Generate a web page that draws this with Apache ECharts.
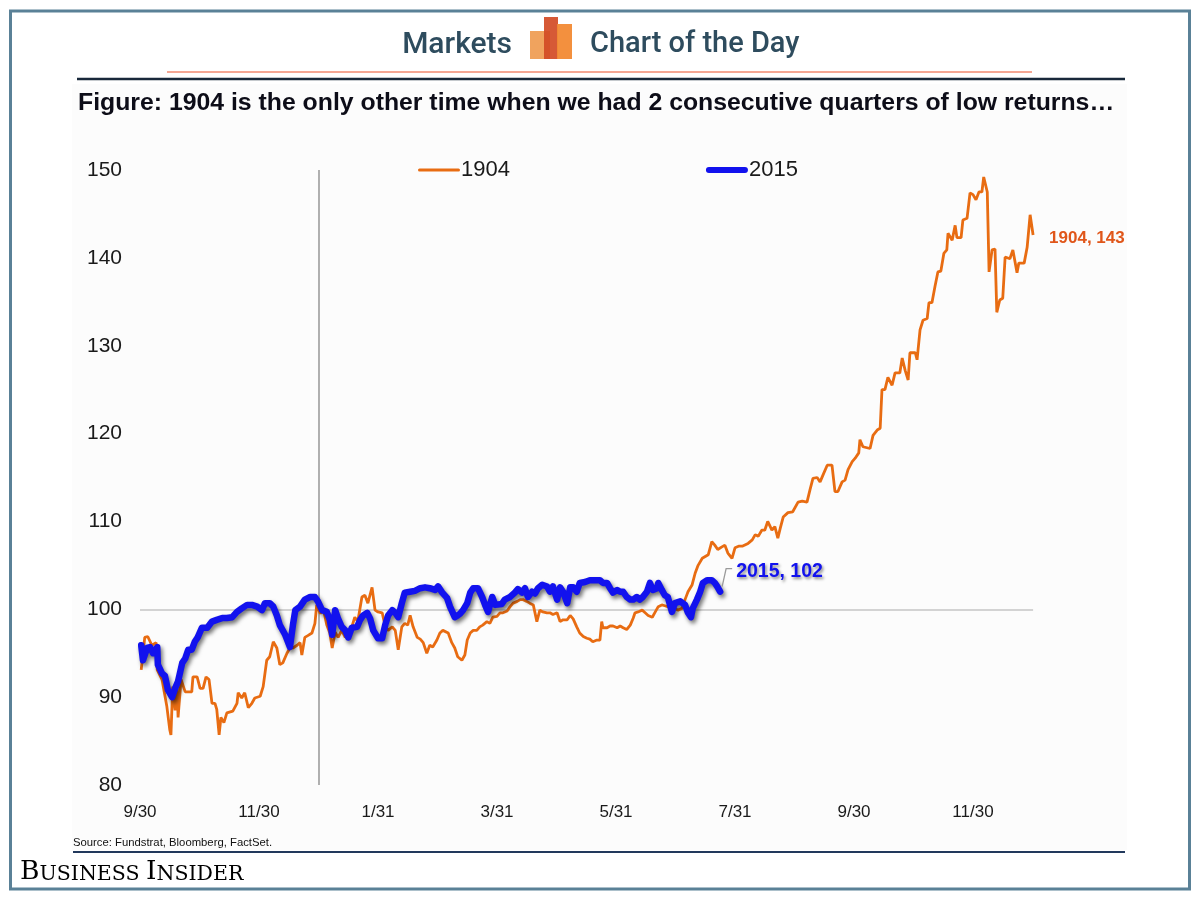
<!DOCTYPE html>
<html>
<head>
<meta charset="utf-8">
<script src="https://cdn.jsdelivr.net/npm/echarts@6/dist/echarts.min.js"></script>
<style>
html,body{margin:0;padding:0;background:#fff;}
#chart{width:1200px;height:900px;}
</style>
</head>
<body>
<div id="chart"></div>
<script>
// x values are months elapsed since 9/30 (start of series)
const tickLabels = ['9/30','11/30','1/31','3/31','5/31','7/31','9/30','11/30'];
const yTicks = [80, 90, 100, 110, 120, 130, 140, 150];
const seriesNames = ['1904', '2015'];
const endLabels = ['1904, 143', '2015, 102'];
const yearBoundary = 3;      // 12/31
const baseline = 100;

const data1904 = [
[0.02,93.1],[0.08,96.8],[0.13,96.9],[0.20,95.9],[0.27,96.2],[0.29,93.1],[0.37,92.0],[0.45,89.0],[0.50,86.3],[0.52,85.7],
[0.55,91.2],[0.59,88.5],[0.62,92.0],[0.64,87.7],[0.69,92.0],[0.73,91.2],[0.76,90.6],[0.87,90.6],[0.89,92.3],[0.96,92.3],
[1.01,91.0],[1.06,91.0],[1.11,92.3],[1.16,92.0],[1.21,89.3],[1.26,89.3],[1.29,88.6],[1.33,85.7],[1.36,87.7],[1.41,87.1],
[1.46,88.2],[1.56,88.4],[1.63,89.3],[1.65,90.5],[1.71,89.9],[1.76,90.5],[1.82,88.8],[1.88,89.3],[1.93,89.9],[2.02,90.1],
[2.07,91.2],[2.13,94.2],[2.18,94.6],[2.24,96.3],[2.30,95.6],[2.35,93.7],[2.40,93.9],[2.47,95.0],[2.52,95.6],[2.57,95.6],
[2.64,95.9],[2.69,96.2],[2.72,94.8],[2.77,96.8],[2.82,97.0],[2.89,97.3],[2.94,98.4],[2.97,100.5],[3.03,99.5],[3.08,100.1],
[3.14,98.2],[3.19,97.3],[3.23,95.6],[3.28,97.4],[3.33,96.8],[3.39,97.6],[3.45,96.8],[3.50,97.4],[3.56,98.0],[3.61,99.1],
[3.66,98.6],[3.73,101.4],[3.78,101.6],[3.83,100.7],[3.90,102.5],[3.95,99.9],[4.00,99.7],[4.07,99.6],[4.12,98.1],[4.17,97.6],
[4.24,98.0],[4.29,97.6],[4.34,95.4],[4.40,98.0],[4.45,98.4],[4.50,98.2],[4.54,99.3],[4.59,98.0],[4.66,96.8],[4.71,96.6],
[4.76,96.2],[4.82,95.0],[4.87,95.9],[4.92,95.7],[4.99,96.5],[5.04,97.3],[5.09,97.6],[5.18,97.3],[5.24,96.2],[5.29,95.6],
[5.34,94.6],[5.41,94.2],[5.46,94.8],[5.50,96.5],[5.55,97.3],[5.60,97.6],[5.66,97.6],[5.71,98.0],[5.76,98.2],[5.83,98.6],
[5.88,98.4],[5.93,99.1],[6.00,99.2],[6.05,99.6],[6.10,99.6],[6.17,99.8],[6.22,100.3],[6.27,100.7],[6.34,100.9],[6.39,101.1],
[6.44,101.1],[6.50,100.9],[6.55,100.7],[6.61,100.5],[6.67,98.6],[6.72,99.9],[6.77,99.7],[6.84,99.6],[6.89,99.6],[6.94,99.4],
[7.01,99.6],[7.06,98.6],[7.11,98.8],[7.18,98.8],[7.23,99.3],[7.28,98.9],[7.34,98.0],[7.39,97.3],[7.45,96.9],[7.51,96.7],
[7.56,96.6],[7.61,96.3],[7.68,96.5],[7.73,96.5],[7.76,98.6],[7.78,97.9],[7.85,97.9],[7.90,98.1],[7.95,98.1],[8.02,97.9],
[8.07,98.1],[8.12,97.9],[8.18,97.7],[8.24,98.2],[8.29,99.0],[8.32,99.6],[8.37,99.7],[8.44,99.9],[8.49,99.6],[8.54,99.3],
[8.61,99.1],[8.66,99.7],[8.71,100.3],[8.77,100.5],[8.82,100.4],[8.87,100.3],[8.94,100.1],[8.99,100.1],[9.04,99.9],[9.11,100.1],
[9.16,101.1],[9.21,102.0],[9.28,102.8],[9.33,104.1],[9.38,105.0],[9.45,105.8],[9.50,106.0],[9.55,106.2],[9.61,107.7],[9.66,107.3],
[9.71,106.8],[9.78,107.1],[9.83,107.3],[9.88,106.4],[9.95,105.8],[10.00,107.0],[10.07,107.2],[10.13,107.2],[10.22,107.5],[10.29,107.9],
[10.34,108.5],[10.39,108.3],[10.45,109.0],[10.50,109.0],[10.55,110.0],[10.62,109.0],[10.67,109.4],[10.72,108.1],[10.76,109.2],[10.81,110.5],
[10.89,111.0],[10.97,111.1],[11.06,112.2],[11.13,112.3],[11.21,112.2],[11.26,113.6],[11.31,114.9],[11.38,115.0],[11.43,114.5],[11.48,115.3],
[11.55,116.4],[11.63,116.4],[11.68,113.4],[11.73,113.4],[11.80,114.5],[11.85,114.7],[11.90,115.9],[11.97,116.8],[12.02,117.2],[12.08,117.8],
[12.10,119.3],[12.15,118.5],[12.27,118.3],[12.32,119.8],[12.39,120.4],[12.44,120.6],[12.47,125.0],[12.52,125.0],[12.57,126.4],[12.64,125.5],
[12.69,126.9],[12.77,126.9],[12.81,128.6],[12.86,127.2],[12.91,126.1],[12.94,129.2],[13.03,129.2],[13.06,128.4],[13.11,131.8],[13.16,132.9],
[13.23,133.1],[13.26,134.9],[13.31,134.9],[13.36,136.7],[13.41,138.4],[13.46,138.5],[13.51,140.5],[13.56,140.9],[13.58,142.8],[13.65,142.0],
[13.70,143.7],[13.73,142.3],[13.80,142.3],[13.83,144.3],[13.90,144.5],[13.95,147.4],[14.00,147.2],[14.05,146.6],[14.10,147.5],[14.15,147.5],
[14.18,149.2],[14.24,147.5],[14.27,138.4],[14.32,140.9],[14.37,141.0],[14.40,133.8],[14.45,135.2],[14.50,135.4],[14.54,140.1],[14.62,139.9],
[14.67,140.9],[14.74,138.3],[14.77,139.4],[14.86,139.4],[14.91,141.2],[14.96,144.9],[15.01,142.6]
];

const data2015 = [
[0.02,95.9],[0.05,94.2],[0.12,95.6],[0.17,95.7],[0.22,95.0],[0.29,95.7],[0.30,93.7],[0.37,92.7],[0.42,92.4],[0.47,90.8],
[0.54,90.0],[0.59,91.0],[0.64,91.8],[0.71,93.9],[0.76,94.4],[0.81,95.4],[0.87,95.4],[0.92,96.3],[0.97,96.8],[1.04,97.9],
[1.13,97.9],[1.21,98.6],[1.29,98.8],[1.38,99.0],[1.46,99.0],[1.55,99.1],[1.63,99.7],[1.71,100.1],[1.80,100.5],[1.88,100.5],
[1.97,100.3],[2.05,99.9],[2.10,100.7],[2.18,100.7],[2.24,100.3],[2.30,99.3],[2.35,98.2],[2.44,97.1],[2.52,95.7],[2.57,98.2],
[2.61,99.9],[2.69,100.3],[2.77,101.1],[2.86,101.4],[2.94,101.4],[2.99,100.9],[3.06,99.9],[3.14,99.7],[3.19,98.8],[3.23,97.1],
[3.28,99.9],[3.33,98.9],[3.39,98.0],[3.45,97.6],[3.50,96.8],[3.56,97.9],[3.65,98.0],[3.70,98.8],[3.75,99.3],[3.82,99.6],
[3.87,98.9],[3.92,97.6],[4.00,96.7],[4.07,96.7],[4.12,98.2],[4.17,99.3],[4.24,99.9],[4.29,99.6],[4.34,99.1],[4.40,100.7],
[4.45,101.9],[4.54,102.0],[4.62,102.1],[4.71,102.4],[4.79,102.5],[4.87,102.4],[4.96,102.2],[5.01,102.6],[5.08,101.9],[5.16,101.3],
[5.21,100.3],[5.29,99.1],[5.34,99.3],[5.38,99.5],[5.43,99.9],[5.50,100.7],[5.55,101.9],[5.60,102.4],[5.68,102.4],[5.75,101.4],
[5.80,100.5],[5.85,99.7],[5.92,101.4],[5.97,100.5],[6.08,100.6],[6.13,101.1],[6.22,101.4],[6.30,101.9],[6.35,102.3],[6.42,101.9],
[6.47,102.4],[6.52,101.4],[6.59,102.0],[6.64,101.8],[6.69,102.4],[6.76,102.8],[6.84,102.6],[6.89,102.0],[6.94,102.6],[7.01,101.1],
[7.06,102.5],[7.11,102.0],[7.18,100.7],[7.23,102.5],[7.28,102.5],[7.34,102.0],[7.39,103.0],[7.48,103.1],[7.56,103.3],[7.65,103.3],
[7.73,103.3],[7.78,103.0],[7.85,103.0],[7.90,102.4],[7.95,101.9],[8.02,102.2],[8.07,102.0],[8.12,102.0],[8.18,101.4],[8.24,101.1],
[8.29,101.1],[8.35,101.4],[8.40,101.1],[8.45,101.4],[8.52,102.0],[8.57,103.0],[8.62,102.2],[8.69,102.4],[8.71,103.0],[8.77,102.2],
[8.82,101.6],[8.87,101.4],[8.94,99.7],[8.99,100.7],[9.08,100.9],[9.16,100.5],[9.21,99.6],[9.26,99.1],[9.29,100.1],[9.36,101.1],
[9.41,101.9],[9.46,103.0],[9.53,103.3],[9.61,103.3],[9.66,103.0],[9.70,102.6],[9.75,102.0]
];

const SANS = "'Liberation Sans',Arial,sans-serif";
const SERIF = "'DejaVu Serif','Liberation Serif',serif";
const ORANGE = '#e86c12';
const BLUE = '#1212ee';

const chart = echarts.init(document.getElementById('chart'), null, {renderer: 'canvas'});

const lastX1904 = data1904[data1904.length - 1][0];

const option = {
  animation: false,
  backgroundColor: '#ffffff',
  grid: {left: 140, right: 108, top: 170, bottom: 115, containLabel: false},
  legend: {
    data: [
      {name: seriesNames[0], icon: 'path://M1.5,0 L40.5,0 A1.5,1.5 0 0 1 40.5,3 L1.5,3 A1.5,1.5 0 0 1 1.5,0 Z'},
      {name: seriesNames[1], icon: 'path://M3,0 L39,0 A3,3 0 0 1 39,6 L3,6 A3,3 0 0 1 3,0 Z'}
    ],
    left: 418, top: 159,
    itemWidth: 42, itemHeight: 12, itemGap: 196,
    padding: 0,
    textStyle: {fontFamily: SANS, fontSize: 22, color: '#1a1a1a', padding: [0,0,0,-4]}
  },
  xAxis: {
    type: 'value', min: 0, max: 16, interval: 2,
    axisLine: {show: false}, axisTick: {show: false}, splitLine: {show: false},
    axisLabel: {
      margin: 19, fontFamily: SANS, fontSize: 17, color: '#1a1a1a',
      showMaxLabel: true,
      formatter: function (v) { const i = Math.round(v / 2); return tickLabels[i] !== undefined ? tickLabels[i] : ''; }
    }
  },
  yAxis: {
    type: 'value', min: yTicks[0], max: yTicks[yTicks.length - 1], interval: 10,
    axisLine: {show: false}, axisTick: {show: false}, splitLine: {show: false},
    axisLabel: {margin: 18, fontFamily: SANS, fontSize: 21, color: '#1a1a1a'}
  },
  series: [
    {
      name: seriesNames[0], type: 'line', data: data1904, symbol: 'none', z: 3,
      lineStyle: {color: ORANGE, width: 2.8},
      itemStyle: {color: ORANGE},
      endLabel: {
        show: true, formatter: endLabels[0], offset: [8, 3],
        fontFamily: SANS, fontWeight: 'bold', fontSize: 17, color: '#e0561a'
      },
      markLine: {
        silent: true, symbol: 'none', z: 1,
        label: {show: false},
        data: [
          [{coord: [0, baseline], lineStyle: {color: '#c6c6c6', width: 1.6}}, {coord: [lastX1904, baseline]}],
          {xAxis: yearBoundary, lineStyle: {color: '#9c9c9c', width: 1.6}}
        ],
        lineStyle: {type: 'solid', color: '#c6c6c6', width: 1.6}
      }
    },
    {
      name: seriesNames[1], type: 'line', data: data2015, symbol: 'none', z: 4,
      lineStyle: {color: BLUE, width: 6.5, cap: 'round', join: 'round',
        shadowColor: 'rgba(0,0,0,0.55)', shadowBlur: 4, shadowOffsetX: 2, shadowOffsetY: 3},
      itemStyle: {color: BLUE},
      endLabel: {
        show: true, formatter: endLabels[1], offset: [8, -20],
        fontFamily: SANS, fontWeight: 'bold', fontSize: 19.5, color: BLUE,
        textShadowColor: 'rgba(0,0,0,0.45)', textShadowBlur: 3, textShadowOffsetX: 1.5, textShadowOffsetY: 2
      }
    }
  ],
  graphic: [
    {type: 'rect', z: -10, shape: {x: 72, y: 84, width: 1055, height: 766}, style: {fill: '#fcfcfc'}},
    {type: 'rect', z: 50, shape: {x: 10.5, y: 11, width: 1179, height: 878}, style: {fill: null, stroke: '#5a8197', lineWidth: 3}},
    {type: 'text', z: 50, x: 512, y: 45, style: {text: 'Markets', fill: '#2e4c5e', font: "500 30px Roboto, 'Noto Sans', sans-serif", textAlign: 'right', textVerticalAlign: 'middle'}},
    {type: 'text', z: 50, x: 590, y: 45, style: {text: 'Chart of the Day', fill: '#2e4c5e', font: "500 29px Roboto, 'Noto Sans', sans-serif", textAlign: 'left', textVerticalAlign: 'middle'}},
    {type: 'rect', z: 50, shape: {x: 530, y: 31, width: 20, height: 28}, style: {fill: '#f0a35e'}},
    {type: 'rect', z: 51, shape: {x: 544, y: 17, width: 14, height: 42}, style: {fill: '#d24b25', opacity: 0.92}},
    {type: 'rect', z: 52, shape: {x: 557, y: 24, width: 15, height: 35}, style: {fill: '#f28a34', opacity: 0.95}},
    {type: 'line', z: 50, shape: {x1: 167, y1: 72, x2: 1032, y2: 72}, style: {stroke: '#f08a70', lineWidth: 1.5}},
    {type: 'line', z: 50, shape: {x1: 77, y1: 79, x2: 1125, y2: 79}, style: {stroke: '#18283a', lineWidth: 2.5}},
    {type: 'text', z: 50, x: 78, y: 103, style: {text: 'Figure: 1904 is the only other time when we had 2 consecutive quarters of low returns\u2026', fill: '#0d0d18', font: "bold 24.8px " + SANS, textVerticalAlign: 'middle'}},
    {type: 'text', z: 50, x: 73, y: 843, style: {text: 'Source: Fundstrat, Bloomberg, FactSet.', fill: '#111', font: "11.3px " + SANS, textVerticalAlign: 'middle'}},
    {type: 'line', z: 50, shape: {x1: 73, y1: 852, x2: 1125, y2: 852}, style: {stroke: '#22395c', lineWidth: 2}},
    {type: 'text', z: 50, x: 20, y: 872, style: {
      text: '{b|B}{s|USINESS }{b|I}{s|NSIDER}', textVerticalAlign: 'middle',
      rich: {
        b: {fontFamily: SERIF, fontSize: 26.5, color: '#2d5264', verticalAlign: 'bottom'},
        s: {fontFamily: SERIF, fontSize: 20.5, color: '#2d5264', verticalAlign: 'bottom'}
      }
    }}
  ]
};

chart.setOption(option);

// leader line for the 2015 end label, placed from the last data point via the axis scale
const last2015 = data2015[data2015.length - 1];
const p = chart.convertToPixel({gridIndex: 0}, last2015);
if (p) {
  chart.setOption({graphic: option.graphic.concat([{
    type: 'polyline', z: 50,
    shape: {points: [[p[0] + 2, p[1] - 5], [p[0] + 6, p[1] - 23], [p[0] + 12, p[1] - 23]]},
    style: {stroke: '#9a9a9a', lineWidth: 1.3, fill: null}
  }])});
}
</script>
</body>
</html>
